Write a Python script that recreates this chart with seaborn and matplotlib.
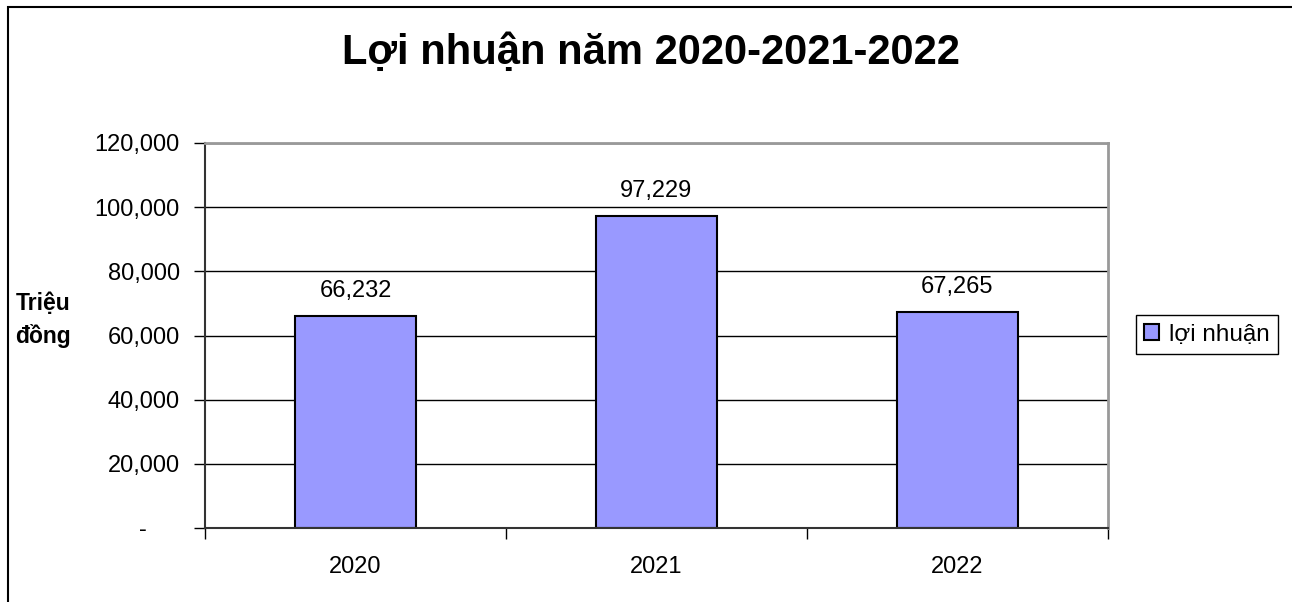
import matplotlib
matplotlib.use("Agg")
import matplotlib.pyplot as plt
import matplotlib.ticker as mticker
from matplotlib.patches import Rectangle
import seaborn as sns
import pandas as pd

# Dữ liệu
nam = ["2020", "2021", "2022"]
loi_nhuan = [66232, 97229, 67265]
ten_chuoi = "lợi nhuận"
tieu_de = "Lợi nhuận năm 2020-2021-2022"
nhan_truc_y = "Triệu\nđồng"

df = pd.DataFrame({"nam": nam, "loi_nhuan": loi_nhuan})

sns.set_style("white")
plt.rcParams["font.family"] = ["Liberation Sans", "DejaVu Sans"]
plt.rcParams.update({"text.color": "black", "axes.labelcolor": "black",
                     "xtick.color": "black", "ytick.color": "black"})

fig = plt.figure(figsize=(12.92, 6.02), dpi=100)
ax = fig.add_axes([205 / 1292, 1 - 528 / 602, 903 / 1292, 385 / 602])

sns.barplot(data=df, x="nam", y="loi_nhuan", color="#9999FF", saturation=1,
            edgecolor="black", linewidth=1.5, width=0.4, ax=ax, label=ten_chuoi)

ax.set_xlim(-0.5, 2.5)
ax.set_ylim(0, 120000)
ax.yaxis.set_major_locator(mticker.MultipleLocator(20000))
ax.yaxis.set_major_formatter(mticker.FuncFormatter(
    lambda v, p: "-     " if v == 0 else f"{v:,.0f}"))
ax.grid(axis="y", color="black", linewidth=1)
ax.set_axisbelow(True)

# vạch chia trục x nằm giữa các nhóm
ax.xaxis.set_minor_locator(mticker.FixedLocator([-0.5, 0.5, 1.5, 2.5]))
ax.tick_params(axis="x", which="major", length=0, pad=20, labelsize=17)
ax.tick_params(axis="x", which="minor", length=8, width=1, color="black", direction="out")
ax.tick_params(axis="y", length=8, width=1, color="black", direction="out", pad=10, labelsize=17)
ax.tick_params(bottom=True, left=True, which="both")

for side in ["top", "right"]:
    ax.spines[side].set_color("#999999")
    ax.spines[side].set_linewidth(2)
ax.spines["left"].set_color("#333333")
ax.spines["bottom"].set_color("#333333")
ax.spines["left"].set_linewidth(1.5)
ax.spines["bottom"].set_linewidth(1.5)

ax.bar_label(ax.containers[0], labels=[f"{v:,.0f}" for v in loi_nhuan],
             padding=10, fontsize=17)

ax.set_xlabel("")
ax.set_ylabel(nhan_truc_y, rotation=0, fontsize=16.5, fontweight="bold",
              ha="center", va="center", multialignment="center", linespacing=1.5)
ax.yaxis.set_label_coords(-0.179, 0.54)

fig.text(651 / 1292, 1 - 53 / 602, tieu_de, ha="center", va="center",
         fontsize=30, fontweight="bold")

ax.legend(loc="center", bbox_to_anchor=(1207 / 1292, 1 - 334.5 / 602),
          bbox_transform=fig.transFigure, fontsize=17.5, frameon=True,
          fancybox=False, edgecolor="black", framealpha=1,
          handlelength=0.6, handleheight=0.6, handletextpad=0.4,
          borderpad=0.35)

# khung viền biểu đồ
fig.patches.append(Rectangle((8 / 1292, -0.1), 1.2, 1 - 7 / 602 + 0.1,
                             transform=fig.transFigure, fill=False,
                             edgecolor="black", linewidth=1.5))

fig.savefig("out.png", dpi=100)
